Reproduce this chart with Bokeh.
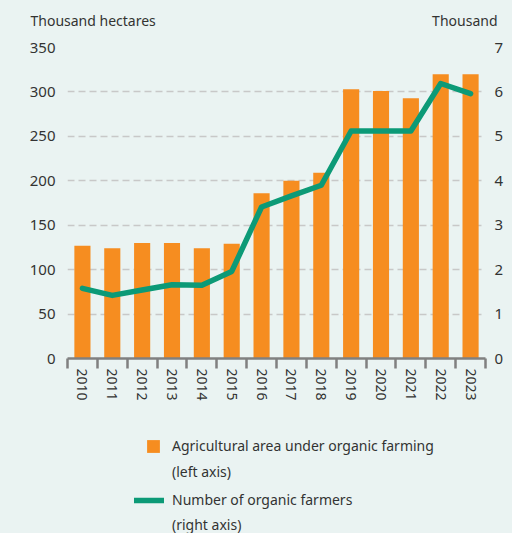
import math
from bokeh.plotting import figure
from bokeh.layouts import column
from bokeh.models import (Range1d, LinearAxis, FixedTicker, Legend, LegendItem, Label)
from bokeh.embed import file_html
from bokeh.resources import INLINE

years = [2010, 2011, 2012, 2013, 2014, 2015, 2016, 2017, 2018, 2019, 2020, 2021, 2022, 2023]
area = [127, 124, 130, 130, 124, 129, 186, 200, 209, 303, 301, 293, 320, 320]
farmers = [1.58, 1.42, 1.54, 1.66, 1.65, 1.96, 3.41, 3.66, 3.90, 5.12, 5.12, 5.12, 6.19, 5.96]
left_ticks = [0, 50, 100, 150, 200, 250, 300, 350]
right_ticks = [0, 1, 2, 3, 4, 5, 6, 7]
left_unit = "Thousand hectares"
right_unit = "Thousand"
legend_area = ["Agricultural area under organic farming", "(left axis)"]
legend_farmers = ["Number of organic farmers", "(right axis)"]

BG = "#EAF3F2"
ORANGE = "#F68D20"
GREEN = "#0C9A77"
TXT = "#333333"
FONT = "Noto Sans"
BL, BR = 67, 27

xr = Range1d(years[0] - 0.5, years[-1] + 0.5)

# ---- main chart ----
p = figure(width=512, height=403, output_backend="svg", toolbar_location=None, title=None,
           x_range=xr, y_range=Range1d(0, 350),
           min_border_left=BL, min_border_right=BR, min_border_top=47, min_border_bottom=44,
           background_fill_color=BG, border_fill_color=BG, outline_line_color=None,
           y_axis_location=None)
p.extra_y_ranges = {"right": Range1d(0, 7)}

p.vbar(x=years, top=area, width=0.54, fill_color=ORANGE, line_color=None)
p.line(x=years, y=farmers, y_range_name="right", line_color=GREEN, line_width=5.5,
       line_join="round", line_cap="round")

left = LinearAxis(ticker=FixedTicker(ticks=left_ticks))
right = LinearAxis(ticker=FixedTicker(ticks=right_ticks), y_range_name="right")
for ax, st in ((left, 12), (right, 9)):
    ax.axis_line_color = None
    ax.major_tick_line_color = None
    ax.major_tick_out = 0
    ax.major_tick_in = 0
    ax.minor_tick_line_color = None
    ax.minor_tick_out = 0
    ax.major_label_standoff = st
    ax.major_label_text_font = FONT
    ax.major_label_text_font_size = "15px"
    ax.major_label_text_color = TXT
p.add_layout(left, "left")
p.add_layout(right, "right")

xa = p.xaxis[0]
xa.ticker = FixedTicker(ticks=years, minor_ticks=[y - 0.5 for y in years] + [years[-1] + 0.5])
xa.major_tick_out = 0
xa.major_tick_in = 0
xa.minor_tick_out = 10
xa.minor_tick_in = 0
xa.minor_tick_line_color = "#808080"
xa.minor_tick_line_width = 2.5
xa.axis_line_color = "#808080"
xa.axis_line_width = 2.5
xa.major_label_orientation = "vertical"
xa.major_label_standoff = 0
xa.major_label_text_font = FONT
xa.major_label_text_font_size = "14px"
xa.major_label_text_color = TXT

p.xgrid.grid_line_color = None
p.ygrid.ticker = FixedTicker(ticks=left_ticks)
p.ygrid.grid_line_color = "#C8C8C8"
p.ygrid.grid_line_width = 1.5
p.ygrid.grid_line_dash = "7 4"

# unit labels above the frame
p.add_layout(Label(x=years[0] - 0.5, y=350, x_offset=-37, y_offset=27, text=left_unit,
                   text_font=FONT, text_font_size="14px", text_color=TXT,
                   text_align="left", text_baseline="alphabetic"), "above")
p.add_layout(Label(x=years[-1] + 0.5, y=350, x_offset=12, y_offset=27, text=right_unit,
                   text_font=FONT, text_font_size="14px", text_color=TXT,
                   text_align="right", text_baseline="alphabetic"), "above")

# ---- legend strip ----
leg = figure(width=512, height=130, output_backend="svg", toolbar_location=None, title=None,
             x_axis_location=None, y_axis_location=None,
             x_range=xr, y_range=Range1d(0, 1),
             min_border_left=BL, min_border_right=BR, min_border_top=0, min_border_bottom=0,
             background_fill_color=BG, border_fill_color=BG, outline_line_color=None)
for g in leg.grid:
    g.visible = False
nan = [math.nan]
sq = leg.vbar(x=nan, top=nan, width=0.5, fill_color=ORANGE, line_color=None)
ln = leg.line(x=nan, y=nan, line_color=GREEN, line_width=5.5, line_cap="round")
blank = leg.line(x=nan, y=nan, line_alpha=0)

common = dict(orientation="vertical", padding=0, margin=0, label_height=19,
              label_text_font=FONT, label_text_font_size="14px", label_text_color=TXT,
              background_fill_alpha=0, border_line_alpha=0)
leg1 = Legend(items=[LegendItem(label=legend_area[0], renderers=[sq]),
                     LegendItem(label=legend_area[1], renderers=[blank])],
              location=(78, 52), spacing=7, glyph_width=16, glyph_height=16,
              label_standoff=11, **common)
leg2 = Legend(items=[LegendItem(label=legend_farmers[0], renderers=[ln]),
                     LegendItem(label=legend_farmers[1], renderers=[blank])],
              location=(67, -1), spacing=6, glyph_width=30, glyph_height=16,
              label_standoff=8, **common)
leg.add_layout(leg1, "center")
leg.add_layout(leg2, "center")

layout = column(p, leg, spacing=0, styles={"background-color": BG})
open("out.html", "w").write(file_html(layout, INLINE))
